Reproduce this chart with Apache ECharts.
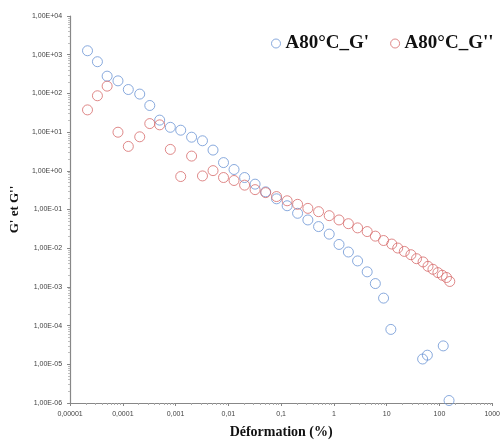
<!DOCTYPE html>
<html>
<head>
<meta charset="utf-8">
<script src="https://cdn.jsdelivr.net/npm/echarts@6/dist/echarts.min.js"></script>
<style>html,body{margin:0;padding:0;background:#fff}#c{width:503px;height:444px}</style>
</head>
<body>
<div id="c"></div>
<script>
// Strain (%) for G'
var strainGp = [2.14e-5, 3.30e-5, 5.04e-5, 8.09e-5, 1.27e-4, 2.09e-4, 3.24e-4, 4.99e-4, 7.94e-4, 1.25e-3,
  2.01e-3, 3.23e-3, 5.12e-3, 8.09e-3, 1.28e-2, 2.03e-2, 3.21e-2, 5.09e-2, 8.18e-2, 0.130,
  0.205, 0.321, 0.512, 0.815, 1.25, 1.88, 2.81, 4.27, 6.10, 8.73,
  12.0, 48, 59, 118, 152];
var gPrime = [1265, 659, 279, 211, 126, 96, 48.7, 20.4, 13.3, 11.2,
  7.39, 5.97, 3.43, 1.63, 1.08, 0.670, 0.452, 0.286, 0.189, 0.125,
  0.0798, 0.0537, 0.0362, 0.0231, 0.0125, 0.00797, 0.00469, 0.00245, 0.00122, 0.000513,
  7.97e-5, 1.37e-5, 1.72e-5, 2.99e-5, 1.16e-6];
// Strain (%) for G''
var strainGpp = [2.14e-5, 3.30e-5, 5.04e-5, 8.09e-5, 1.27e-4, 2.09e-4, 3.24e-4, 4.99e-4, 7.94e-4, 1.25e-3,
  2.01e-3, 3.23e-3, 5.12e-3, 8.09e-3, 1.28e-2, 2.03e-2, 3.21e-2, 5.09e-2, 8.18e-2, 0.130,
  0.205, 0.321, 0.512, 0.815, 1.25, 1.88, 2.81, 4.27, 6.10, 8.73,
  12.5, 16.2, 21.6, 28.8, 36.8, 48.9, 60.7, 75.3, 93.5, 113, 136, 157];
var gSecond = [37.5, 86.9, 154, 9.93, 4.27, 7.56, 16.6, 15.4, 3.57, 0.711,
  2.40, 0.737, 1.01, 0.670, 0.562, 0.426, 0.326, 0.273, 0.216, 0.168,
  0.136, 0.107, 0.0879, 0.0693, 0.0537, 0.0430, 0.0335, 0.0269, 0.0205, 0.0158,
  0.0128, 0.0101, 0.00826, 0.00679, 0.00536, 0.00442, 0.00340, 0.00285, 0.00234, 0.00200, 0.00175, 0.00138];
var xTickLabels = {"-5":"0,00001","-4":"0,0001","-3":"0,001","-2":"0,01","-1":"0,1","0":"1","1":"10","2":"100","3":"1000"};
var seriesNames = ["A80°C_G'", "A80°C_G''"];

function pairs(xs, ys){ return xs.map(function(x,i){ return [x, ys[i]]; }); }
function yLabel(v){
  var e = Math.round(Math.log10(v));
  var s = Math.abs(e) < 10 ? '0' + Math.abs(e) : '' + Math.abs(e);
  return '1,00E' + (e < 0 ? '-' : '+') + s;
}
function xLabel(v){
  var e = Math.round(Math.log10(v));
  return xTickLabels[String(e)] || '';
}

var chart = echarts.init(document.getElementById('c'));
var axisLineStyle = {color: '#878787', width: 1.2};
chart.setOption({
  animation: false,
  backgroundColor: '#fff',
  grid: {left: 70, right: 6, top: 16, bottom: 39, containLabel: false},
  legend: {
    top: 29, left: 266,
    itemWidth: 9, itemHeight: 9, itemGap: 21,
    itemStyle: {borderWidth: 1},
    textStyle: {fontFamily: 'Liberation Serif', fontWeight: 'bold', fontSize: 19, color: '#111'},
    data: seriesNames
  },
  xAxis: {
    type: 'log', min: 1e-5, max: 1000, logBase: 10, interval: 1,
    name: 'Déformation (%)', nameLocation: 'middle', nameGap: 22,
    nameTextStyle: {fontFamily: 'Liberation Serif', fontWeight: 'bold', fontSize: 14, color: '#111'},
    axisLine: {lineStyle: axisLineStyle},
    axisTick: {show: true, inside: false, length: 3, lineStyle: {color: '#878787'}},
    minorTick: {show: true, splitNumber: 9, length: 2, lineStyle: {color: '#aaa'}},
    splitLine: {show: false},
    axisLabel: {formatter: xLabel, fontSize: 7, color: '#444', fontFamily: 'Liberation Sans', margin: 8}
  },
  yAxis: {
    type: 'log', min: 1e-6, max: 1e4, logBase: 10, interval: 1,
    name: "G' et G''", nameLocation: 'middle', nameGap: 48, nameRotate: 90,
    nameTextStyle: {fontFamily: 'Liberation Serif', fontWeight: 'bold', fontSize: 13, color: '#111'},
    axisLine: {show: true, lineStyle: axisLineStyle},
    axisTick: {show: true, length: 3, lineStyle: {color: '#878787'}},
    minorTick: {show: true, splitNumber: 9, length: 2, lineStyle: {color: '#bbb'}},
    splitLine: {show: false},
    axisLabel: {formatter: yLabel, fontSize: 7, color: '#444', fontFamily: 'Liberation Sans', margin: 8}
  },
  series: [
    {
      name: seriesNames[0], type: 'scatter', symbol: 'circle', symbolSize: 10,
      itemStyle: {color: 'rgba(0,0,0,0)', borderColor: '#6b95d4', borderWidth: 1},
      data: pairs(strainGp, gPrime)
    },
    {
      name: seriesNames[1], type: 'scatter', symbol: 'circle', symbolSize: 10,
      itemStyle: {color: 'rgba(0,0,0,0)', borderColor: '#d76c6c', borderWidth: 1},
      data: pairs(strainGpp, gSecond)
    }
  ]
});
</script>
</body>
</html>
